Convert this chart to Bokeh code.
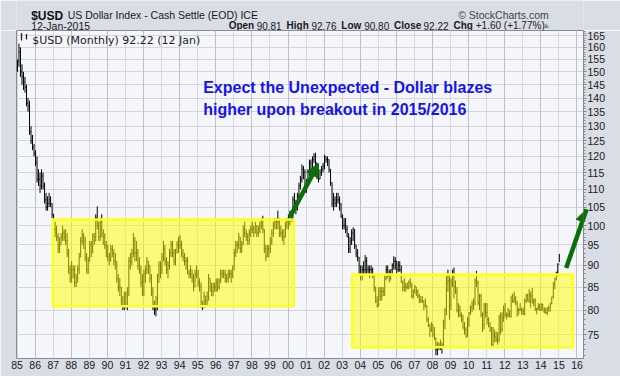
import math
from bokeh.plotting import figure
from bokeh.layouts import column
from bokeh.models import (Range1d, FixedTicker, Grid, Label, Arrow, NormalHead,
                          NumeralTickFormatter, ColumnDataSource)
from bokeh.embed import file_html
from bokeh.resources import INLINE

# ---------------- data ----------------
year_ticks = list(range(1985, 2017))
year_labels = ["85", "86", "87", "88", "89", "90", "91", "92", "93", "94", "95",
               "96", "97", "98", "99", "00", "01", "02", "03", "04", "05", "06",
               "07", "08", "09", "10", "11", "12", "13", "14", "15", "16"]
price_ticks = [75, 80, 85, 90, 95, 100, 105, 110, 115, 120, 125, 130, 135,
               140, 145, 150, 155, 160, 165]

first_open = 151.0

monthly_high = [
    155, 161.6, 160, 153, 150, 148, 145, 140, 139, 130, 127, 124,      # 1985
    122, 120, 116, 115, 116, 115, 112, 109, 108, 109, 108, 106,        # 1986
    103, 101, 100, 98, 97, 98, 100, 99, 99, 98, 94, 90,                # 1987
    91, 90, 90, 88, 90, 93, 97, 99, 98, 97, 93, 92,                    # 1988
    96, 96, 98, 98, 103, 105.2, 101, 102, 103, 99, 98, 96,             # 1989
    95, 93, 95, 95, 94, 93, 91, 88, 87, 85, 83, 84,                    # 1990
    84, 85, 92, 93, 94, 98, 97, 96, 94, 92, 90, 88,                    # 1991
    89, 90, 92, 91, 90, 88, 85, 82, 83, 88, 91, 91,                    # 1992
    93, 96, 95, 92, 91, 94, 96, 96, 94, 94, 96, 97,                    # 1993
    97.5, 96, 94, 93, 92, 92, 89, 90, 89, 88, 89, 90,                  # 1994
    89, 87, 86, 82, 84, 83, 84, 88, 87, 86, 86, 86,                    # 1995
    87, 87, 87, 89, 89, 89, 89, 88, 89, 89, 89, 90,                    # 1996
    94, 96, 96, 98, 97, 96, 100, 101, 99, 98, 99, 100,                 # 1997
    101, 100, 101, 100, 100, 101, 102, 102.6, 99, 95, 95, 95,          # 1998
    97, 99, 101, 102, 102, 104, 102, 100, 99, 99, 101, 102,            # 1999
    103, 104, 104, 108, 109, 107, 109, 112, 114, 117.5, 117, 116,      # 2000
    113, 116, 119, 119, 120, 121, 121.2, 118, 116, 116, 117, 118,      # 2001
    120.5, 120, 120, 119, 116, 112, 109, 108, 109, 109, 108, 106,      # 2002
    103, 102, 102, 100, 98, 97, 99, 99.5, 99, 95, 94, 92,              # 2003
    90, 90, 91, 92.5, 92, 90, 90, 90, 89.5, 88, 85, 83,                # 2004
    85, 85, 85, 85, 88, 90, 90, 89, 89, 90.5, 92.2, 92,                # 2005
    91, 91, 91, 90, 86.5, 87, 86, 86, 86.5, 87, 86, 84.5,              # 2006
    85.5, 85, 84.5, 83.5, 83, 83, 82, 82.5, 81, 78.5, 77, 77.5,        # 2007
    77, 76.5, 74.5, 73.5, 73.5, 74, 73.5, 78, 80.5, 87.5, 89, 88,      # 2008
    87, 89, 89.5, 86.5, 85, 81.5, 81, 79.5, 79, 77.5, 76.5, 78.5,      # 2009
    79.5, 81, 82, 82.5, 87, 88.7, 86.5, 83.5, 83.5, 79.5, 81.5, 81.5,  # 2010
    81.5, 78.5, 77.5, 76.5, 76.5, 76, 75.5, 75.5, 79, 79.5, 79.5, 81,  # 2011
    81.5, 79.5, 80.5, 80, 83, 83.5, 84, 83, 82, 80.5, 81.5, 80.5,      # 2012
    80.5, 82.5, 83.5, 83.5, 84.5, 84, 84.8, 82.5, 82.5, 80.5, 81.5, 81.3,  # 2013
    81.5, 81.3, 80.6, 80.5, 80.6, 81, 81.5, 82.9, 86, 87, 88.5, 90.5,  # 2014
    92.76,                                                             # 2015
]

monthly_low = [
    150, 152, 148, 145, 143, 142, 137, 135, 127, 124, 122, 120,        # 1985
    117, 112, 111, 109, 110, 110, 106, 104, 104, 105, 105, 102,        # 1986
    98, 97, 96, 93, 93, 95, 96, 96, 95, 92, 88, 86,                    # 1987
    86, 87, 85, 85, 86, 88, 92, 95, 94, 91, 88, 88,                    # 1988
    91, 92, 93, 95, 96, 99, 96, 96, 97, 95, 94, 92,                    # 1989
    91, 90, 91, 92, 90, 89, 86, 84, 83, 81, 80, 80,                    # 1990
    80.5, 80, 83, 89, 90, 92, 91, 91, 89, 88, 85, 83,                  # 1991
    83, 86, 88, 88, 86, 83, 80, 79, 78.7, 80, 86, 87,                  # 1992
    88, 91, 90, 88, 87, 89, 92, 92, 90, 90, 93, 93,                    # 1993
    94, 92, 91, 90, 89, 88, 87, 87, 86, 84, 85, 87,                    # 1994
    85, 84, 80.5, 80, 80.5, 81, 81, 82, 84, 83, 83, 84,                # 1995
    84, 84, 84.5, 86, 87, 87, 86, 86, 86, 87, 86, 87,                  # 1996
    89, 92, 93, 94, 93, 93, 95, 97, 96, 95, 95, 97,                    # 1997
    98, 97, 98, 97, 97, 98, 99, 98, 93, 91, 92, 92,                    # 1998
    93, 95, 97, 99, 99, 99, 97, 97, 96, 95, 97, 99,                    # 1999
    99, 100, 101, 101, 105, 103, 104, 107, 110, 112, 113, 109,         # 2000
    109, 111, 114, 115, 116, 118, 117, 113, 112, 113, 114, 115,        # 2001
    116, 118, 117, 115, 111, 105, 104, 105, 105, 106, 104, 102,        # 2002
    99, 99, 98, 97, 93, 93, 95, 96, 94, 92, 91, 88,                    # 2003
    86.5, 86.5, 88, 88, 88, 88, 87, 88, 87, 84, 81.5, 80.5,            # 2004
    80.7, 82, 82, 83, 83, 86.5, 87, 86, 86.5, 88, 89, 89,              # 2005
    88, 88.5, 88.5, 86, 84, 84, 84, 84.5, 84.5, 85, 82.5, 82.5,        # 2006
    83.5, 83, 82.5, 81.5, 81.5, 81.5, 80, 80.5, 77.5, 76.5, 74.5, 75.5,  # 2007
    74.5, 74, 71, 71, 72, 72, 71.3, 72.5, 76, 79, 84, 78,              # 2008
    80, 85, 82.5, 83.5, 79.5, 78.5, 78.5, 77.5, 76, 75, 74.3, 74.5,    # 2009
    76.5, 79, 79.5, 80, 81, 85, 81, 80, 78.5, 75.5, 76, 78.5,          # 2010
    77, 76.5, 75.5, 72.8, 72.8, 73.5, 73.5, 73, 73.5, 75, 75.5, 77.5,  # 2011
    78.5, 78, 78.5, 78.5, 78.5, 81.5, 81.5, 81, 78.6, 79, 79.8, 79,    # 2012
    79, 78.9, 81.5, 81.8, 81.5, 80.5, 81.5, 80.8, 79.8, 79.1, 80, 79.8,  # 2013
    79.8, 79.9, 79.3, 79.2, 78.9, 79.7, 79.8, 81.2, 82.5, 84.5, 86.5, 87.5,  # 2014
    90.80,                                                             # 2015
]

monthly_close = [
    154, 158, 150, 148, 146, 144, 138, 137, 128, 125, 123, 121,        # 1985
    118, 113, 113, 111, 114, 111, 107, 105, 106, 107, 106, 103,        # 1986
    99, 99, 97, 94, 95, 97, 98, 97, 96, 93, 89, 87,                    # 1987
    89, 89, 86, 87, 89, 92, 96, 97, 96, 92, 89, 91,                    # 1988
    95, 93, 97, 96, 102, 100, 97, 101, 98, 97, 95, 93,                 # 1989
    92, 91, 94, 93, 91, 91, 87, 85, 85, 82, 81, 83,                    # 1990
    81, 84, 91, 92, 93, 96, 93, 93, 90, 89, 86, 84,                    # 1991
    88, 89, 91, 90, 87, 84, 81, 80, 81, 86, 90, 89,                    # 1992
    92, 94, 91, 89, 90, 93, 95, 93, 91, 93, 95, 96,                    # 1993
    95, 93, 92, 91, 91, 88, 88, 88, 87, 85, 88, 88,                    # 1994
    86, 85, 81, 81, 83, 82, 83, 87, 85, 84, 85, 85,                    # 1995
    86, 85, 86, 88, 88, 88, 87, 87, 88, 88, 88, 89,                    # 1996
    93, 95, 95, 97, 94, 95, 99, 98, 97, 96, 98, 99,                    # 1997
    99, 98, 100, 98, 99, 100, 101, 99, 94, 92, 94, 94,                 # 1998
    96, 98, 100, 101, 101, 101, 98, 98, 97, 97, 100, 101,              # 1999
    102, 103, 102, 107, 106, 105, 108, 111, 113, 116, 115, 110,        # 2000
    112, 115, 118, 116, 119, 120, 118, 114, 113, 115, 116, 117,        # 2001
    120, 119, 119, 116, 112, 106, 107, 106, 107, 107, 106, 102.5,      # 2002
    100, 100, 99, 97, 94, 96, 98, 99, 95, 93, 92, 88,                  # 2003
    88, 89, 89, 91, 89, 89, 89, 89, 88, 85, 82, 81,                    # 2004
    84, 83, 84, 84, 87, 89, 88, 87, 89, 90, 91, 91,                    # 2005
    89, 90, 89, 86, 85, 85, 85, 85, 86, 85, 83, 84,                    # 2006
    85, 84, 83, 82, 82, 82, 81, 81, 78, 77, 76, 77,                    # 2007
    75, 74, 72, 72.5, 73, 72.5, 73, 77.5, 79, 86, 86.5, 81,            # 2008
    86, 88, 85, 84, 80, 80, 79, 78, 76.5, 76, 75, 78,                  # 2009
    79.5, 80.5, 81, 81.5, 86.5, 86, 81.5, 83, 79, 77, 81, 79.5,        # 2010
    78, 76.5, 76, 73, 75, 74.5, 74, 74, 78.5, 76, 78.5, 80,            # 2011
    79, 79, 79, 78.5, 83, 82, 82.5, 81.5, 80, 80, 80, 79.8,            # 2012
    79.2, 82, 83, 82, 83.3, 83, 81.5, 82, 80.2, 80.2, 80.7, 80.2,      # 2013
    81.2, 79.8, 80.1, 79.5, 80.4, 79.8, 81.5, 82.8, 85.9, 86.9, 88.4, 90.3,  # 2014
    92.22,                                                             # 2015
]

# consolidation zones and arrows (annotation positions)
zone_start = [1986.98, 2003.55]
zone_end = [2000.32, 2015.77]
zone_top = [101.6, 87.9]
zone_bottom = [80.8, 72.5]

arrow_x0 = [2000.10, 2015.40]
arrow_y0 = [102.2, 89.4]
arrow_x1 = [2001.69, 2016.53]
arrow_y1 = [117.8, 104.4]

# ---------------- layout constants (page pixels) ----------------
W, H = 620, 376
FL, FR, FT, FB = 16, 583, 30, 358          # frame box
X0, X1 = 1984.967, 2016.36
Y0, Y1 = 70.4, 167.3
BG_OUT = "#d9dde6"


def px_x(px):
    return X0 + (px - FL) * (X1 - X0) / (FR - FL)


def px_y(py):
    return math.exp(math.log(Y1) - (py - FT) * (math.log(Y1) - math.log(Y0)) / (FB - FT))


# ---------------- header strip (its own small figure) ----------------
hp = figure(width=W, height=FT, output_backend="svg", toolbar_location=None, title=None,
            x_range=Range1d(0, W), y_range=Range1d(FT, 0),
            x_axis_location=None, y_axis_location=None,
            min_border_left=0, min_border_right=0, min_border_top=0, min_border_bottom=0)
hp.grid.visible = False
hp.outline_line_color = None
hp.background_fill_color = BG_OUT
hp.border_fill_color = BG_OUT


def hlab(text, px, py, size="10px", bold=False, color="#1a1a1a", align="left"):
    hp.add_layout(Label(text=text, x=px, y=py, text_font="Liberation Sans",
                        text_font_size=size, text_font_style="bold" if bold else "normal",
                        text_color=color, text_align=align, text_baseline="alphabetic"))


hlab("$USD", 16, 15, size="12px", bold=True, color="#111111")
hlab("US Dollar Index - Cash Settle (EOD) ICE", 56, 14.5, size="10.5px")
hlab("12-Jan-2015", 16, 25, size="10.5px")
hlab("\u00a9 StockCharts.com", 582, 14, size="10.5px", color="#444444", align="right")
hdr = [("Open", True, 232), ("90.81", False, 262.6), ("High", True, 295.3),
       ("92.76", False, 322.5), ("Low", True, 355.2), ("90.80", False, 380.2),
       ("Close", True, 412.9), ("92.22", False, 445.1), ("Chg", True, 477.8),
       ("+1.60 (+1.77%)", False, 502.2)]
for t, b, xx in hdr:
    hlab(t, xx, 25, bold=b)
hlab("\u25b2", 575, 24.5, size="8px", color="#8a8a8a")

# ---------------- derived columns ----------------
n = len(monthly_close)
month_x = [1985 + (i + 0.25) / 12.0 for i in range(n)]
monthly_open = [first_open] + monthly_close[:-1]
tick = 0.035
src = ColumnDataSource(dict(
    x=month_x, xl=[v - tick for v in month_x], xr=[v + tick for v in month_x],
    high=monthly_high, low=monthly_low, open=monthly_open, close=monthly_close))

# ---------------- main chart ----------------
p = figure(width=W, height=H - FT, output_backend="svg", toolbar_location=None,
           title=None, y_axis_type="log", y_axis_location="right",
           x_range=Range1d(X0, X1), y_range=Range1d(Y0, Y1),
           min_border_left=FL, min_border_right=W - FR, min_border_top=0,
           min_border_bottom=H - FB)

p.background_fill_color = "#f4f6fa"
p.border_fill_color = BG_OUT
p.outline_line_color = "#858a94"
p.outline_line_width = 1

odd_years = [y for y in year_ticks if y % 2 == 1]
even_years = [y for y in year_ticks if y % 2 == 0]
p.xgrid.ticker = FixedTicker(ticks=odd_years)
p.xgrid.grid_line_color = "#d5d8df"
p.add_layout(Grid(dimension=0, ticker=FixedTicker(ticks=even_years),
                  grid_line_color="#bcc0c9"))
p.ygrid.ticker = FixedTicker(ticks=price_ticks)
p.ygrid.grid_line_color = "#d3d6de"

xa = p.xaxis[0]
xa.ticker = FixedTicker(ticks=year_ticks)
xa.major_label_overrides = {y: lab for y, lab in zip(year_ticks, year_labels)}
xa.axis_line_color = None
xa.major_tick_line_color = None
xa.minor_tick_line_color = None
xa.major_tick_out = 0
xa.major_label_standoff = 2
xa.major_label_text_font = "Liberation Sans"
xa.major_label_text_font_size = "10.5px"
xa.major_label_text_color = "#1a1a1a"

ya = p.yaxis[0]
ya.ticker = FixedTicker(ticks=price_ticks, minor_ticks=list(range(71, 168)))
ya.formatter = NumeralTickFormatter(format="0")
ya.axis_line_color = None
ya.major_tick_out = 3
ya.major_tick_in = 0
ya.major_tick_line_color = "#7a7a7a"
ya.minor_tick_out = 2
ya.minor_tick_in = 0
ya.minor_tick_line_color = "#8a8a8a"
ya.major_label_standoff = 1
ya.major_label_text_font = "Liberation Sans"
ya.major_label_text_font_size = "10.5px"
ya.major_label_text_color = "#1a1a1a"

# OHLC bars
p.segment(x0="x", y0="low", x1="x", y1="high", source=src, line_color="black", line_width=1)
p.segment(x0="xl", y0="open", x1="x", y1="open", source=src, line_color="black", line_width=1)
p.segment(x0="x", y0="close", x1="xr", y1="close", source=src, line_color="black", line_width=1)

# yellow zones
p.quad(left=zone_start, right=zone_end, top=zone_top, bottom=zone_bottom,
       fill_color="#ffff00", fill_alpha=0.5, line_color="#ffff1a", line_width=2.5)

green = "#0b6e0b"
for i in range(len(arrow_x0)):
    p.add_layout(Arrow(end=NormalHead(size=13, fill_color=green, line_color=green, line_width=1),
                       x_start=arrow_x0[i], y_start=arrow_y0[i],
                       x_end=arrow_x1[i], y_end=arrow_y1[i],
                       line_color=green, line_width=4.5))

# small legend icon (two tiny price bars) and legend text
icon_src = ColumnDataSource(dict(
    x0=[px_x(21), px_x(26)], x1=[px_x(21), px_x(26)],
    y0=[px_y(40), px_y(39)], y1=[px_y(32.5), px_y(33.5)]))
p.segment(x0="x0", y0="y0", x1="x1", y1="y1", source=icon_src, line_color="#222222", line_width=1.3)


def lab(text, px, py, size="10.5px", bold=False, color="#1a1a1a", align="left",
        font="Liberation Sans"):
    p.add_layout(Label(text=text, x=px_x(px), y=px_y(py),
                       text_font=font, text_font_size=size,
                       text_font_style="bold" if bold else "normal",
                       text_color=color, text_align=align, text_baseline="alphabetic"))


lab("$USD (Monthly) 92.22 (12 Jan)", 31.7, 40, size="11px", font="DejaVu Sans", color="#222222")
lab("Expect the Unexpected - Dollar blazes", 202.7, 87, size="16px", bold=True, color="#1414f0")
lab("higher upon breakout in 2015/2016", 202.7, 109.3, size="16px", bold=True, color="#1414f0")

layout = column(hp, p, spacing=0)
open("out.html", "w").write(file_html(layout, INLINE))
